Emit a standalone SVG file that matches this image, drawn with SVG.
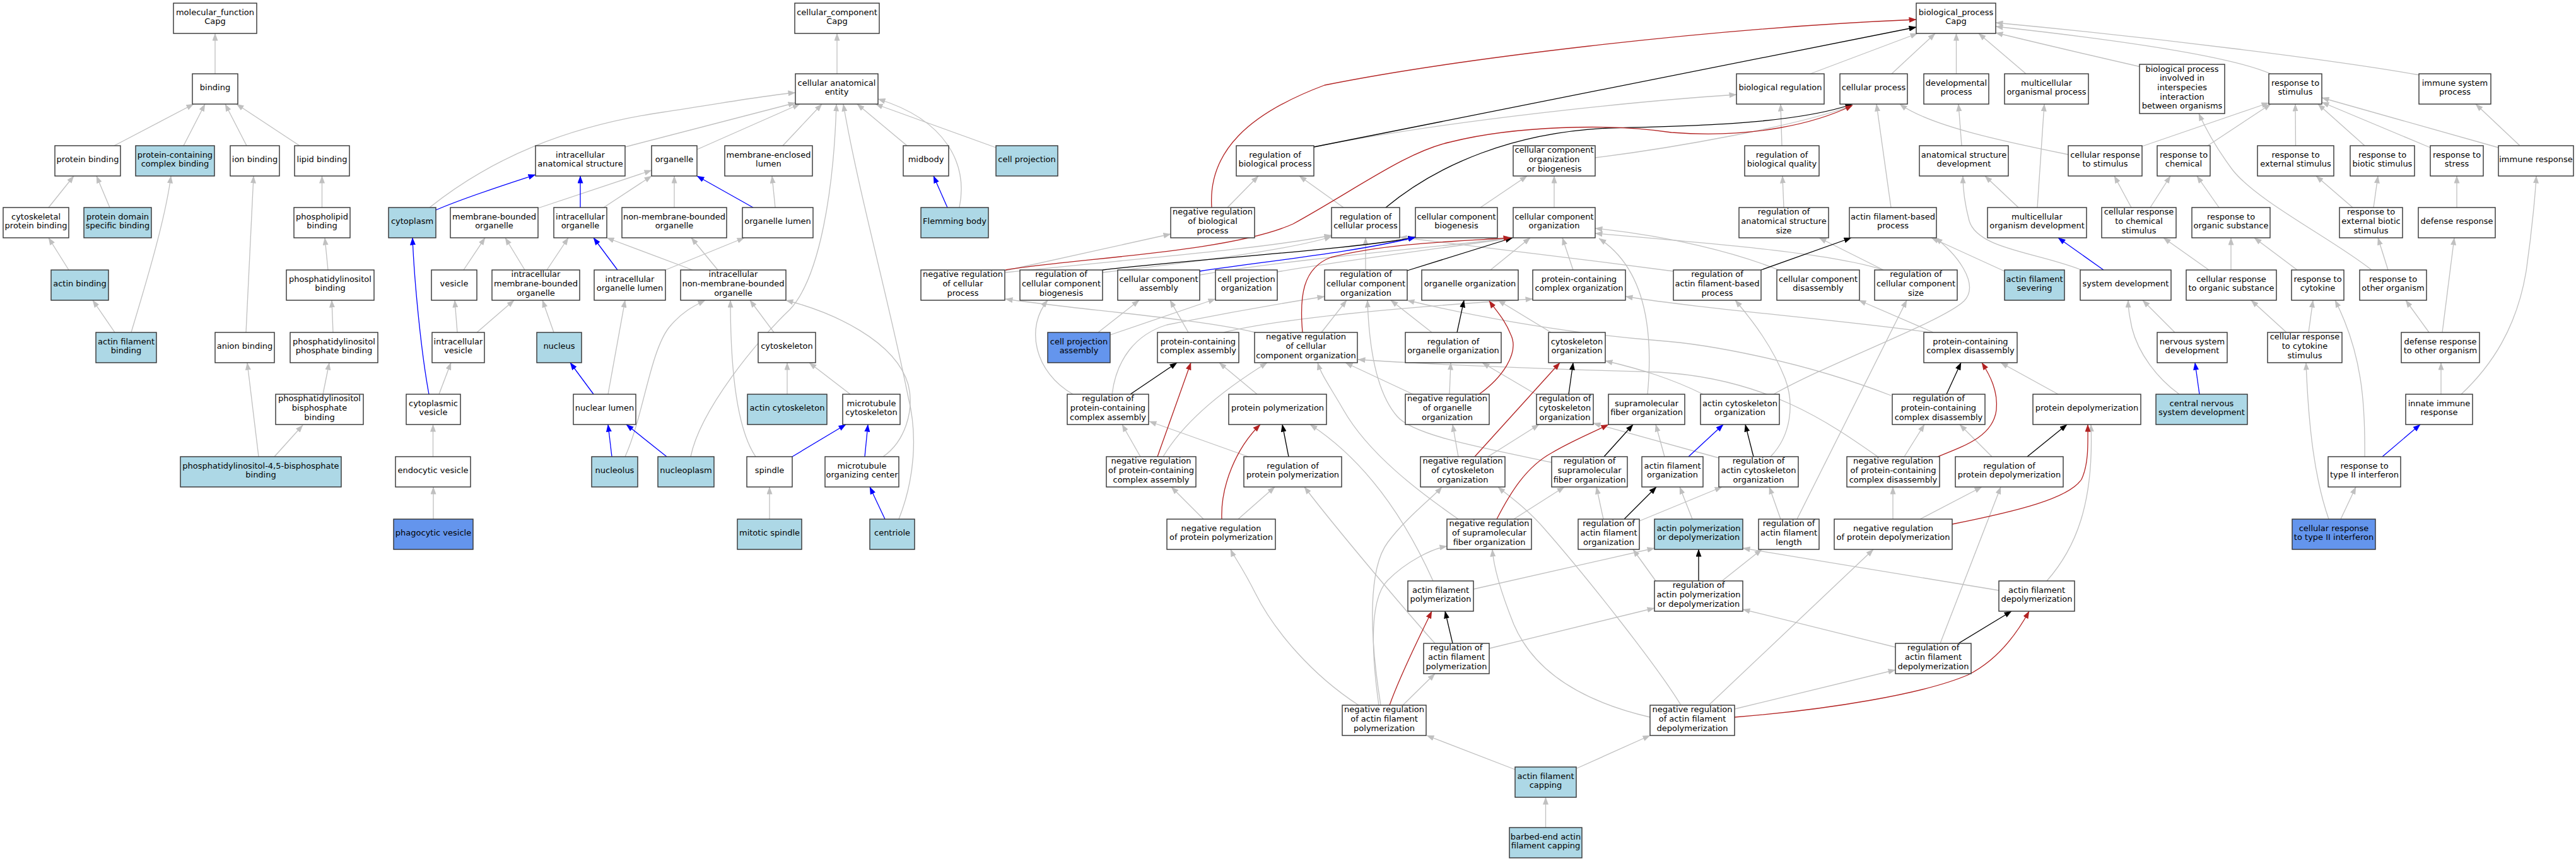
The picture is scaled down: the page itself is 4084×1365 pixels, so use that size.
<svg xmlns="http://www.w3.org/2000/svg" width="4084" height="1365" viewBox="0 0 4084 1365">
<defs>
<style>
.node rect{fill:#fff;stroke:#333;stroke-width:1.4}
.node.lb rect{fill:#add8e6}
.node.cb rect{fill:#6495ed}
.node text{font-family:"DejaVu Sans","Liberation Sans",sans-serif;font-size:13px;fill:#000;text-anchor:middle}
#edges path{fill:none;stroke-width:1.3}
#edges path.g{stroke:#c0c0c0;marker-end:url(#ag)}
#edges path.b{stroke:#0000ff;marker-end:url(#ab)}
#edges path.k{stroke:#000;marker-end:url(#ak)}
#edges path.r{stroke:#b22222;marker-end:url(#ar)}
</style>
<marker id="ag" viewBox="0 0 12 9" refX="11.5" refY="4.5" markerWidth="12" markerHeight="9" markerUnits="userSpaceOnUse" orient="auto"><path d="M0,0L12,4.5L0,9z" fill="#c0c0c0"/></marker>
<marker id="ab" viewBox="0 0 12 9" refX="11.5" refY="4.5" markerWidth="12" markerHeight="9" markerUnits="userSpaceOnUse" orient="auto"><path d="M0,0L12,4.5L0,9z" fill="#0000ff"/></marker>
<marker id="ak" viewBox="0 0 12 9" refX="11.5" refY="4.5" markerWidth="12" markerHeight="9" markerUnits="userSpaceOnUse" orient="auto"><path d="M0,0L12,4.5L0,9z" fill="#000"/></marker>
<marker id="ar" viewBox="0 0 12 9" refX="11.5" refY="4.5" markerWidth="12" markerHeight="9" markerUnits="userSpaceOnUse" orient="auto"><path d="M0,0L12,4.5L0,9z" fill="#b22222"/></marker>
</defs>
<rect width="4084" height="1365" fill="#fff"/>
<g id="edges">
<!-- molecular function -->
<path class="g" d="M341,117 L341,53"/>
<path class="g" d="M181,231 L307,165"/>
<path class="g" d="M291,231 L325,165"/>
<path class="g" d="M391,231 L357,165"/>
<path class="g" d="M475,231 L375,165"/>
<path class="g" d="M77,329 L117,279"/>
<path class="g" d="M174,329 L153,279"/>
<path class="g" d="M109,428 L77,377"/>
<path class="g" d="M182,527 L147,476"/>
<path class="g" d="M208,527 C228,460 262,350 271,279"/>
<path class="g" d="M390,527 L402,279"/>
<path class="g" d="M510.5,329 L510.5,279"/>
<path class="g" d="M520,428 L515,377"/>
<path class="g" d="M528,527 L526,476"/>
<path class="g" d="M512,625 L522,575"/>
<path class="g" d="M435,724 L480,674"/>
<path class="g" d="M410,724 L392,575"/>
<!-- cellular component -->
<path class="g" d="M1327,117 L1327,53"/>
<path class="g" d="M681,329 C780,250 900,200 1050,178 C1150,163 1220,150 1261,147"/>
<path class="g" d="M991,233 L1261,163"/>
<path class="g" d="M1105,237 L1268,165"/>
<path class="g" d="M1241,231 L1303,165"/>
<path class="g" d="M1438,231 L1359,165"/>
<path class="g" d="M1579,234 L1388,165"/>
<path class="g" d="M1521,329 C1535,260 1500,190 1392,157"/>
<path class="g" d="M1095,724 C1110,650 1200,540 1252,491 C1300,440 1322,300 1326,165"/>
<path class="g" d="M1425,823 C1450,760 1455,690 1440,630 C1410,480 1360,300 1337,165"/>
<path class="g" d="M991,724 C1020,660 1030,560 1060,520 C1080,495 1100,485 1118,476"/>
<path class="g" d="M964,625 L991,476"/>
<path class="g" d="M696,625 L715,575"/>
<path class="g" d="M686.5,724 L686.5,673"/>
<path class="g" d="M687,823 L687,772"/>
<path class="g" d="M725,527 L721,476"/>
<path class="g" d="M756,527 L815,476"/>
<path class="g" d="M735,428 L769,377"/>
<path class="g" d="M832,428 L801,377"/>
<path class="g" d="M867,428 L901,377"/>
<path class="g" d="M878,527 L860,476"/>
<path class="g" d="M1055,428 L1180,377"/>
<path class="g" d="M1098,428 L962,377"/>
<path class="g" d="M1138,428 L1096,377"/>
<path class="g" d="M1227,527 L1189,476"/>
<path class="g" d="M1198,724 C1175,690 1158,620 1158,476"/>
<path class="g" d="M1400,724 C1435,700 1450,650 1440,610 C1420,540 1320,495 1246,476"/>
<path class="g" d="M1220,823 L1220,772"/>
<path class="g" d="M1248,625 L1248,575"/>
<path class="g" d="M1348,625 L1283,575"/>
<path class="g" d="M1229,329 L1224,279"/>
<path class="g" d="M1069,329 L1069,279"/>
<path class="g" d="M957,329 L1033,279"/>
<path class="g" d="M853,330 L1033,270"/>
<path class="b" d="M691,333 C740,312 800,293 849,277"/>
<path class="b" d="M920,329 L920,279"/>
<path class="b" d="M1194,329 L1105,279"/>
<path class="b" d="M979,428 L941,377"/>
<path class="b" d="M680,625 C668,560 657,450 654,377"/>
<path class="b" d="M941,625 L904,575"/>
<path class="b" d="M970,724 L964,673"/>
<path class="b" d="M1057,724 L993,673"/>
<path class="b" d="M1403,823 L1379,772"/>
<path class="b" d="M1371,724 L1376,673"/>
<path class="b" d="M1256,724 L1341,673"/>
<path class="b" d="M1502,329 L1480,279"/>
<!-- biological process: gray -->
<path class="g" d="M2870,117 L3040,53"/>
<path class="g" d="M2999,117 L3068,53"/>
<path class="g" d="M3101.5,117 L3101.5,53"/>
<path class="g" d="M3212,117 L3137,53"/>
<path class="g" d="M3394,106 Q3280,80 3164,52"/>
<path class="g" d="M3600,117 C3550,95 3420,70 3164,42"/>
<path class="g" d="M3836,119 C3700,95 3420,60 3164,36"/>
<path class="g" d="M2083,233 C2300,190 2600,160 2753,150"/>
<path class="g" d="M2825,231 L2823,165"/>
<path class="g" d="M2529,250 C2650,235 2850,200 2937,167"/>
<path class="g" d="M2998,329 L2975,165"/>
<path class="g" d="M3279,245 C3180,225 3060,200 3012,165"/>
<path class="g" d="M3110,231 L3105,165"/>
<path class="g" d="M3230,329 L3241,165"/>
<path class="g" d="M3200,329 L3147,279"/>
<path class="g" d="M3396,232 L3597,163"/>
<path class="g" d="M3500,231 L3600,165"/>
<path class="g" d="M3639.5,231 L3639,165"/>
<path class="g" d="M3749,231 L3675,165"/>
<path class="g" d="M3853,234 L3681,162"/>
<path class="g" d="M3961,234 L3681,155"/>
<path class="g" d="M3995,231 L3925,165"/>
<path class="g" d="M1946,329 L1995,279"/>
<path class="g" d="M2130,329 L2060,279"/>
<path class="g" d="M2347,329 L2421,279"/>
<path class="g" d="M2464,329 L2464,279"/>
<path class="g" d="M2828,329 L2826,279"/>
<path class="g" d="M3409,329 L3441,279"/>
<path class="g" d="M3518,329 L3483,279"/>
<path class="g" d="M3730,329 L3672,279"/>
<path class="g" d="M3763,329 L3770,279"/>
<path class="g" d="M3895,329 L3895,279"/>
<path class="g" d="M3379,329 L3352,279"/>
<path class="g" d="M1594,429 L1856,371"/>
<path class="g" d="M1594,432 C1800,410 2000,395 2111,373"/>
<path class="g" d="M1748,432 C1900,415 2050,395 2111,375"/>
<path class="g" d="M1902,436 C2050,410 2300,390 2399,377"/>
<path class="g" d="M2025,431 C2150,410 2300,392 2399,377"/>
<path class="g" d="M2165,428 L2165,377"/>
<path class="g" d="M2363,428 L2426,377"/>
<path class="g" d="M2494,428 L2477,377"/>
<path class="g" d="M2820,428 C2750,400 2650,375 2529,362"/>
<path class="g" d="M2986,428 C2900,400 2700,385 2529,370"/>
<path class="g" d="M2653,430 C2500,410 2300,385 2219,376"/>
<path class="g" d="M2986,428 L2884,377"/>
<path class="g" d="M3178,430 L3062,377"/>
<path class="g" d="M2812,625 C2900,575 3080,510 3114,477 C3140,450 3100,400 3068,377"/>
<path class="g" d="M3300,428 C3230,400 3135,395 3122,350 C3114,320 3112,300 3112,279"/>
<path class="g" d="M3502,428 L3430,377"/>
<path class="g" d="M3537,428 L3537,377"/>
<path class="g" d="M3642,428 L3574,377"/>
<path class="g" d="M3786,428 L3770,377"/>
<path class="g" d="M3760,428 C3700,380 3580,320 3540,270 C3510,230 3495,200 3486,180"/>
<path class="g" d="M1741,527 L1806,476"/>
<path class="g" d="M1760,531 L1927,474"/>
<path class="g" d="M1884,527 L1855,476"/>
<path class="g" d="M1940,527 C2050,500 2300,482 2430,474"/>
<path class="g" d="M1763,625 C1770,570 1800,530 1850,515 C1950,495 2050,478 2100,470"/>
<path class="g" d="M2095,527 L2135,476"/>
<path class="g" d="M1990,527 C1900,505 1700,490 1594,474"/>
<path class="g" d="M2270,527 L2205,476"/>
<path class="g" d="M2459,527 L2375,476"/>
<path class="g" d="M3065,527 L2947,476"/>
<path class="g" d="M3060,527 C2900,505 2700,490 2577,470"/>
<path class="g" d="M3448,527 L3397,476"/>
<path class="g" d="M3625,527 L3569,476"/>
<path class="g" d="M3660,527 L3667,476"/>
<path class="g" d="M3872,527 L3891,377"/>
<path class="g" d="M3851,527 L3814,476"/>
<path class="g" d="M1701,625 C1640,590 1625,520 1661,476"/>
<path class="g" d="M1993,625 L1933,575"/>
<path class="g" d="M2298,625 L2300,575"/>
<path class="g" d="M2240,625 L2133,575"/>
<path class="g" d="M2435,625 L2350,575"/>
<path class="g" d="M2612,625 C2620,540 2615,430 2535,378"/>
<path class="g" d="M2700,625 C2650,600 2600,585 2545,572"/>
<path class="g" d="M2998,627 C2850,570 2700,545 2630,540 C2500,530 2350,505 2231,476"/>
<path class="g" d="M3263,625 L3172,575"/>
<path class="g" d="M3455,625 C3420,600 3390,560 3380,520 C3376,500 3374,490 3374,476"/>
<path class="g" d="M3870,625 L3870,575"/>
<path class="g" d="M3902,625 C3950,580 3990,520 4005,430 C4015,360 4020,300 4021,279"/>
<path class="g" d="M1808,724 L1779,673"/>
<path class="g" d="M1844,724 C1870,680 1920,630 2009,575"/>
<path class="g" d="M1979,724 L1822,668"/>
<path class="g" d="M2359,724 L2440,673"/>
<path class="g" d="M2312,724 L2303,673"/>
<path class="g" d="M2460,733 C2350,710 2240,690 2215,660 C2180,620 2170,540 2168,476"/>
<path class="g" d="M2639,724 L2625,673"/>
<path class="g" d="M2725,726 L2526,671"/>
<path class="g" d="M2807,724 C2840,690 2845,640 2830,600 C2810,550 2780,510 2751,476"/>
<path class="g" d="M3019,724 L3051,673"/>
<path class="g" d="M2977,724 C2900,670 2800,600 2630,590 C2450,585 2300,580 2153,570"/>
<path class="g" d="M3158,724 L3107,673"/>
<path class="g" d="M3749,724 C3750,640 3745,560 3702,476"/>
<path class="g" d="M1963,823 L2021,772"/>
<path class="g" d="M1908,823 L1857,772"/>
<path class="g" d="M2400,823 L2480,772"/>
<path class="g" d="M2312,823 C2250,780 2170,720 2130,650 C2110,615 2095,595 2089,575"/>
<path class="g" d="M2542,823 L2531,772"/>
<path class="g" d="M2599,826 L2730,772"/>
<path class="g" d="M2683,823 L2663,772"/>
<path class="g" d="M2823,823 L2805,772"/>
<path class="g" d="M2849,823 L3023,476"/>
<path class="g" d="M3044,823 L3142,772"/>
<path class="g" d="M3001,823 L3001,772"/>
<path class="g" d="M3711,823 L3735,772"/>
<path class="g" d="M3692,823 C3670,760 3660,680 3656,575"/>
<path class="g" d="M2272,921 C2240,850 2180,740 2077,673"/>
<path class="g" d="M2336,934 L2623,869"/>
<path class="g" d="M2625,921 L2589,871"/>
<path class="g" d="M2730,921 L2793,871"/>
<path class="g" d="M3169,936 L2763,869"/>
<path class="g" d="M3245,921 C3290,870 3320,800 3315,673"/>
<path class="g" d="M2275,1020 C2230,970 2120,840 2068,772"/>
<path class="g" d="M2361,1028 L2623,964"/>
<path class="g" d="M3076,1020 L3172,772"/>
<path class="g" d="M3005,1026 L2763,966"/>
<path class="g" d="M2224,1118 L2275,1068"/>
<path class="g" d="M2154,1118 C2080,1070 2020,1000 1990,940 C1970,900 1955,880 1951,871"/>
<path class="g" d="M2186,1118 C2175,1040 2170,950 2200,920 C2230,890 2270,870 2294,866"/>
<path class="g" d="M2189,1118 C2170,1000 2170,900 2200,860 C2230,820 2270,790 2286,772"/>
<path class="g" d="M2750,1124 L3005,1062"/>
<path class="g" d="M2709,1118 L2970,871"/>
<path class="g" d="M2616,1137 C2500,1110 2430,1060 2400,990 C2380,940 2368,900 2366,871"/>
<path class="g" d="M2665,1118 C2630,1060 2520,920 2450,840 C2420,805 2390,785 2375,772"/>
<path class="g" d="M2402,1220 L2262,1166"/>
<path class="g" d="M2500,1218 L2616,1166"/>
<path class="g" d="M2450.5,1312 L2450.5,1264"/>
<!-- regulates -->
<path class="k" d="M2083,233 L3038,43"/>
<path class="k" d="M2197,329 C2280,260 2400,210 2550,203 C2700,200 2850,195 2937,165"/>
<path class="k" d="M1748,428 C1900,410 2150,395 2244,376"/>
<path class="k" d="M2231,429 L2398,377"/>
<path class="k" d="M2792,428 L2935,377"/>
<path class="k" d="M2310,527 L2321,476"/>
<path class="k" d="M1792,625 L1866,575"/>
<path class="k" d="M2487,625 L2494,575"/>
<path class="k" d="M3086,625 L3109,575"/>
<path class="k" d="M2043,724 L2033,673"/>
<path class="k" d="M2543,724 L2589,673"/>
<path class="k" d="M2780,724 L2767,673"/>
<path class="k" d="M3214,724 L3277,673"/>
<path class="k" d="M2575,823 L2626,772"/>
<path class="k" d="M2693,921 L2693,871"/>
<path class="k" d="M2303,1020 L2291,969"/>
<path class="k" d="M3105,1020 L3189,969"/>
<!-- negatively regulates -->
<path class="r" d="M1921,329 C1915,240 1980,180 2100,135 C2300,95 2700,45 3038,31"/>
<path class="r" d="M1594,428 C1700,410 1950,400 2050,355 C2150,300 2230,240 2300,225 C2400,200 2550,195 2650,210 C2780,220 2880,195 2937,167"/>
<path class="r" d="M2065,527 C2060,470 2065,425 2110,408 C2200,385 2320,382 2395,377"/>
<path class="r" d="M1835,724 L1888,575"/>
<path class="r" d="M2345,625 C2380,600 2410,560 2395,530 C2385,505 2370,490 2361,477"/>
<path class="r" d="M2338,724 L2473,575"/>
<path class="r" d="M1937,823 C1935,770 1960,710 1998,673"/>
<path class="r" d="M2373,823 C2395,780 2420,740 2460,718 C2490,700 2520,688 2550,673"/>
<path class="r" d="M3072,724 C3120,705 3160,690 3165,650 C3168,620 3155,595 3142,575"/>
<path class="r" d="M3095,831 C3200,810 3280,790 3300,760 C3312,735 3310,700 3310,673"/>
<path class="r" d="M2203,1118 C2220,1070 2250,1010 2270,969"/>
<path class="r" d="M2750,1137 C2900,1125 3050,1100 3120,1070 C3170,1045 3200,1000 3217,969"/>
<!-- part of -->
<path class="b" d="M1902,430 C2000,415 2150,400 2244,376"/>
<path class="b" d="M3335,428 L3263,377"/>
<path class="b" d="M3487,625 L3480,575"/>
<path class="b" d="M2677,724 L2732,673"/>
<path class="b" d="M3777,724 L3837,673"/>
</g>
<!-- molecular function nodes -->
<g id="n_mf" class="node"><rect x="275" y="5" width="132" height="48"/><text x="341" y="23.7">molecular_function<tspan x="341" dy="14.6">Capg</tspan></text></g>
<g id="n_binding" class="node"><rect x="305" y="117" width="72" height="48"/><text x="341" y="143">binding</text></g>
<g id="n_protbind" class="node"><rect x="87" y="231" width="104" height="48"/><text x="139" y="257">protein binding</text></g>
<g id="n_pcbind" class="node lb"><rect x="215" y="231" width="125" height="48"/><text x="277.5" y="249.7">protein-containing<tspan x="277.5" dy="14.6">complex binding</tspan></text></g>
<g id="n_ionbind" class="node"><rect x="365" y="231" width="78" height="48"/><text x="404" y="257">ion binding</text></g>
<g id="n_lipbind" class="node"><rect x="467" y="231" width="87" height="48"/><text x="510.5" y="257">lipid binding</text></g>
<g id="n_cytoprotbind" class="node"><rect x="5" y="329" width="104" height="48"/><text x="57" y="347.7">cytoskeletal<tspan x="57" dy="14.6">protein binding</tspan></text></g>
<g id="n_pdsb" class="node lb"><rect x="133" y="329" width="107" height="48"/><text x="186.5" y="347.7">protein domain<tspan x="186.5" dy="14.6">specific binding</tspan></text></g>
<g id="n_phospholipid" class="node"><rect x="466" y="329" width="89" height="48"/><text x="510.5" y="347.7">phospholipid<tspan x="510.5" dy="14.6">binding</tspan></text></g>
<g id="n_actinbind" class="node lb"><rect x="81" y="428" width="91" height="48"/><text x="126.5" y="454">actin binding</text></g>
<g id="n_pibind" class="node"><rect x="454" y="428" width="139" height="48"/><text x="523.5" y="446.7">phosphatidylinositol<tspan x="523.5" dy="14.6">binding</tspan></text></g>
<g id="n_afbind" class="node lb"><rect x="152" y="527" width="96" height="48"/><text x="200" y="545.7">actin filament<tspan x="200" dy="14.6">binding</tspan></text></g>
<g id="n_anion" class="node"><rect x="341" y="527" width="94" height="48"/><text x="388" y="553">anion binding</text></g>
<g id="n_pipbind" class="node"><rect x="460" y="527" width="139" height="48"/><text x="529.5" y="545.7">phosphatidylinositol<tspan x="529.5" dy="14.6">phosphate binding</tspan></text></g>
<g id="n_pibpbind" class="node"><rect x="437" y="625" width="139" height="48"/><text x="506.5" y="636.4">phosphatidylinositol<tspan x="506.5" dy="14.6">bisphosphate</tspan><tspan x="506.5" dy="14.6">binding</tspan></text></g>
<g id="n_pip2bind" class="node lb"><rect x="286" y="724" width="255" height="48"/><text x="413.5" y="742.7">phosphatidylinositol-4,5-bisphosphate<tspan x="413.5" dy="14.6">binding</tspan></text></g>
<!-- cellular component nodes -->
<g id="n_cc" class="node"><rect x="1260" y="5" width="134" height="48"/><text x="1327" y="23.7">cellular_component<tspan x="1327" dy="14.6">Capg</tspan></text></g>
<g id="n_cae" class="node"><rect x="1261" y="117" width="131" height="48"/><text x="1326.5" y="135.7">cellular anatomical<tspan x="1326.5" dy="14.6">entity</tspan></text></g>
<g id="n_ias" class="node"><rect x="849" y="231" width="142" height="48"/><text x="920" y="249.7">intracellular<tspan x="920" dy="14.6">anatomical structure</tspan></text></g>
<g id="n_organelle" class="node"><rect x="1033" y="231" width="72" height="48"/><text x="1069" y="257">organelle</text></g>
<g id="n_mel" class="node"><rect x="1149" y="231" width="139" height="48"/><text x="1218.5" y="249.7">membrane-enclosed<tspan x="1218.5" dy="14.6">lumen</tspan></text></g>
<g id="n_midbody" class="node"><rect x="1432" y="231" width="72" height="48"/><text x="1468" y="257">midbody</text></g>
<g id="n_cellproj" class="node lb"><rect x="1579" y="231" width="98" height="48"/><text x="1628" y="257">cell projection</text></g>
<g id="n_cytoplasm" class="node lb"><rect x="616" y="329" width="75" height="48"/><text x="653.5" y="355">cytoplasm</text></g>
<g id="n_mbo" class="node"><rect x="714" y="329" width="139" height="48"/><text x="783.5" y="347.7">membrane-bounded<tspan x="783.5" dy="14.6">organelle</tspan></text></g>
<g id="n_io" class="node"><rect x="878" y="329" width="84" height="48"/><text x="920" y="347.7">intracellular<tspan x="920" dy="14.6">organelle</tspan></text></g>
<g id="n_nmbo" class="node"><rect x="986" y="329" width="166" height="48"/><text x="1069" y="347.7">non-membrane-bounded<tspan x="1069" dy="14.6">organelle</tspan></text></g>
<g id="n_ol" class="node"><rect x="1177" y="329" width="112" height="48"/><text x="1233" y="355">organelle lumen</text></g>
<g id="n_flemming" class="node lb"><rect x="1460" y="329" width="107" height="48"/><text x="1513.5" y="355">Flemming body</text></g>
<g id="n_vesicle" class="node"><rect x="684" y="428" width="72" height="48"/><text x="720" y="454">vesicle</text></g>
<g id="n_imbo" class="node"><rect x="780" y="428" width="139" height="48"/><text x="849.5" y="439.4">intracellular<tspan x="849.5" dy="14.6">membrane-bounded</tspan><tspan x="849.5" dy="14.6">organelle</tspan></text></g>
<g id="n_iol" class="node"><rect x="942" y="428" width="113" height="48"/><text x="998.5" y="446.7">intracellular<tspan x="998.5" dy="14.6">organelle lumen</tspan></text></g>
<g id="n_inmbo" class="node"><rect x="1079" y="428" width="167" height="48"/><text x="1162.5" y="439.4">intracellular<tspan x="1162.5" dy="14.6">non-membrane-bounded</tspan><tspan x="1162.5" dy="14.6">organelle</tspan></text></g>
<g id="n_ivesicle" class="node"><rect x="685" y="527" width="83" height="48"/><text x="726.5" y="545.7">intracellular<tspan x="726.5" dy="14.6">vesicle</tspan></text></g>
<g id="n_nucleus" class="node lb"><rect x="851" y="527" width="71" height="48"/><text x="886.5" y="553">nucleus</text></g>
<g id="n_cytoskeleton" class="node"><rect x="1202" y="527" width="91" height="48"/><text x="1247.5" y="553">cytoskeleton</text></g>
<g id="n_cytovesicle" class="node"><rect x="644" y="625" width="86" height="48"/><text x="687" y="643.7">cytoplasmic<tspan x="687" dy="14.6">vesicle</tspan></text></g>
<g id="n_nuclumen" class="node"><rect x="909" y="625" width="99" height="48"/><text x="958.5" y="651">nuclear lumen</text></g>
<g id="n_actincyto" class="node lb"><rect x="1185" y="625" width="126" height="48"/><text x="1248" y="651">actin cytoskeleton</text></g>
<g id="n_mtcyto" class="node"><rect x="1336" y="625" width="91" height="48"/><text x="1381.5" y="643.7">microtubule<tspan x="1381.5" dy="14.6">cytoskeleton</tspan></text></g>
<g id="n_endovesicle" class="node"><rect x="627" y="724" width="119" height="48"/><text x="686.5" y="750">endocytic vesicle</text></g>
<g id="n_nucleolus" class="node lb"><rect x="938" y="724" width="73" height="48"/><text x="974.5" y="750">nucleolus</text></g>
<g id="n_nucleoplasm" class="node lb"><rect x="1043" y="724" width="89" height="48"/><text x="1087.5" y="750">nucleoplasm</text></g>
<g id="n_spindle" class="node"><rect x="1184" y="724" width="72" height="48"/><text x="1220" y="750">spindle</text></g>
<g id="n_mtoc" class="node"><rect x="1308" y="724" width="117" height="48"/><text x="1366.5" y="742.7">microtubule<tspan x="1366.5" dy="14.6">organizing center</tspan></text></g>
<g id="n_phagovesicle" class="node cb"><rect x="624" y="823" width="126" height="48"/><text x="687" y="849">phagocytic vesicle</text></g>
<g id="n_mitspindle" class="node lb"><rect x="1169" y="823" width="102" height="48"/><text x="1220" y="849">mitotic spindle</text></g>
<g id="n_centriole" class="node lb"><rect x="1379" y="823" width="71" height="48"/><text x="1414.5" y="849">centriole</text></g>
<!-- biological process nodes -->
<g id="n_bp" class="node"><rect x="3038" y="5" width="126" height="48"/><text x="3101" y="23.7">biological_process<tspan x="3101" dy="14.6">Capg</tspan></text></g>
<g id="n_bioreg" class="node"><rect x="2753" y="117" width="139" height="48"/><text x="2822.5" y="143">biological regulation</text></g>
<g id="n_cellproc" class="node"><rect x="2917" y="117" width="107" height="48"/><text x="2970.5" y="143">cellular process</text></g>
<g id="n_devproc" class="node"><rect x="3050" y="117" width="103" height="48"/><text x="3101.5" y="135.7">developmental<tspan x="3101.5" dy="14.6">process</tspan></text></g>
<g id="n_mcop" class="node"><rect x="3178" y="117" width="133" height="48"/><text x="3244.5" y="135.7">multicellular<tspan x="3244.5" dy="14.6">organismal process</tspan></text></g>
<g id="n_interspecies" class="node"><rect x="3392" y="102" width="135" height="78"/><text x="3459.5" y="113.8">biological process<tspan x="3459.5" dy="14.6">involved in</tspan><tspan x="3459.5" dy="14.6">interspecies</tspan><tspan x="3459.5" dy="14.6">interaction</tspan><tspan x="3459.5" dy="14.6">between organisms</tspan></text></g>
<g id="n_respstim" class="node"><rect x="3597" y="117" width="84" height="48"/><text x="3639" y="135.7">response to<tspan x="3639" dy="14.6">stimulus</tspan></text></g>
<g id="n_immsys" class="node"><rect x="3835" y="117" width="114" height="48"/><text x="3892" y="135.7">immune system<tspan x="3892" dy="14.6">process</tspan></text></g>
<g id="n_regbp" class="node"><rect x="1960" y="231" width="123" height="48"/><text x="2021.5" y="249.7">regulation of<tspan x="2021.5" dy="14.6">biological process</tspan></text></g>
<g id="n_ccob" class="node"><rect x="2399" y="231" width="130" height="48"/><text x="2464" y="242.4">cellular component<tspan x="2464" dy="14.6">organization</tspan><tspan x="2464" dy="14.6">or biogenesis</tspan></text></g>
<g id="n_regbq" class="node"><rect x="2766" y="231" width="118" height="48"/><text x="2825" y="249.7">regulation of<tspan x="2825" dy="14.6">biological quality</tspan></text></g>
<g id="n_asd" class="node"><rect x="3043" y="231" width="141" height="48"/><text x="3113.5" y="249.7">anatomical structure<tspan x="3113.5" dy="14.6">development</tspan></text></g>
<g id="n_crstim" class="node"><rect x="3279" y="231" width="117" height="48"/><text x="3337.5" y="249.7">cellular response<tspan x="3337.5" dy="14.6">to stimulus</tspan></text></g>
<g id="n_respchem" class="node"><rect x="3420" y="231" width="84" height="48"/><text x="3462" y="249.7">response to<tspan x="3462" dy="14.6">chemical</tspan></text></g>
<g id="n_respext" class="node"><rect x="3579" y="231" width="121" height="48"/><text x="3639.5" y="249.7">response to<tspan x="3639.5" dy="14.6">external stimulus</tspan></text></g>
<g id="n_respbiotic" class="node"><rect x="3726" y="231" width="102" height="48"/><text x="3777" y="249.7">response to<tspan x="3777" dy="14.6">biotic stimulus</tspan></text></g>
<g id="n_respstress" class="node"><rect x="3853" y="231" width="84" height="48"/><text x="3895" y="249.7">response to<tspan x="3895" dy="14.6">stress</tspan></text></g>
<g id="n_immresp" class="node"><rect x="3961" y="231" width="119" height="48"/><text x="4020.5" y="257">immune response</text></g>
<g id="n_negregbp" class="node"><rect x="1856" y="329" width="133" height="48"/><text x="1922.5" y="340.4">negative regulation<tspan x="1922.5" dy="14.6">of biological</tspan><tspan x="1922.5" dy="14.6">process</tspan></text></g>
<g id="n_regcp" class="node"><rect x="2111" y="329" width="108" height="48"/><text x="2165" y="347.7">regulation of<tspan x="2165" dy="14.6">cellular process</tspan></text></g>
<g id="n_ccbio" class="node"><rect x="2244" y="329" width="130" height="48"/><text x="2309" y="347.7">cellular component<tspan x="2309" dy="14.6">biogenesis</tspan></text></g>
<g id="n_cco" class="node"><rect x="2399" y="329" width="130" height="48"/><text x="2464" y="347.7">cellular component<tspan x="2464" dy="14.6">organization</tspan></text></g>
<g id="n_regass" class="node"><rect x="2757" y="329" width="142" height="48"/><text x="2828" y="340.4">regulation of<tspan x="2828" dy="14.6">anatomical structure</tspan><tspan x="2828" dy="14.6">size</tspan></text></g>
<g id="n_afbp" class="node"><rect x="2932" y="329" width="138" height="48"/><text x="3001" y="347.7">actin filament-based<tspan x="3001" dy="14.6">process</tspan></text></g>
<g id="n_mcod" class="node"><rect x="3151" y="329" width="157" height="48"/><text x="3229.5" y="347.7">multicellular<tspan x="3229.5" dy="14.6">organism development</tspan></text></g>
<g id="n_crchem" class="node"><rect x="3332" y="329" width="118" height="48"/><text x="3391" y="340.4">cellular response<tspan x="3391" dy="14.6">to chemical</tspan><tspan x="3391" dy="14.6">stimulus</tspan></text></g>
<g id="n_resporg" class="node"><rect x="3475" y="329" width="124" height="48"/><text x="3537" y="347.7">response to<tspan x="3537" dy="14.6">organic substance</tspan></text></g>
<g id="n_respextbio" class="node"><rect x="3709" y="329" width="100" height="48"/><text x="3759" y="340.4">response to<tspan x="3759" dy="14.6">external biotic</tspan><tspan x="3759" dy="14.6">stimulus</tspan></text></g>
<g id="n_defresp" class="node"><rect x="3834" y="329" width="122" height="48"/><text x="3895" y="355">defense response</text></g>
<g id="n_negregcp" class="node"><rect x="1460" y="428" width="133" height="48"/><text x="1526.5" y="439.4">negative regulation<tspan x="1526.5" dy="14.6">of cellular</tspan><tspan x="1526.5" dy="14.6">process</tspan></text></g>
<g id="n_regccb" class="node"><rect x="1617" y="428" width="131" height="48"/><text x="1682.5" y="439.4">regulation of<tspan x="1682.5" dy="14.6">cellular component</tspan><tspan x="1682.5" dy="14.6">biogenesis</tspan></text></g>
<g id="n_cca" class="node"><rect x="1772" y="428" width="130" height="48"/><text x="1837" y="446.7">cellular component<tspan x="1837" dy="14.6">assembly</tspan></text></g>
<g id="n_cpo" class="node"><rect x="1927" y="428" width="98" height="48"/><text x="1976" y="446.7">cell projection<tspan x="1976" dy="14.6">organization</tspan></text></g>
<g id="n_regcco" class="node"><rect x="2100" y="428" width="131" height="48"/><text x="2165.5" y="439.4">regulation of<tspan x="2165.5" dy="14.6">cellular component</tspan><tspan x="2165.5" dy="14.6">organization</tspan></text></g>
<g id="n_orgorg" class="node"><rect x="2254" y="428" width="153" height="48"/><text x="2330.5" y="454">organelle organization</text></g>
<g id="n_pcco" class="node"><rect x="2430" y="428" width="147" height="48"/><text x="2503.5" y="446.7">protein-containing<tspan x="2503.5" dy="14.6">complex organization</tspan></text></g>
<g id="n_regafbp" class="node"><rect x="2653" y="428" width="139" height="48"/><text x="2722.5" y="439.4">regulation of<tspan x="2722.5" dy="14.6">actin filament-based</tspan><tspan x="2722.5" dy="14.6">process</tspan></text></g>
<g id="n_ccd" class="node"><rect x="2817" y="428" width="131" height="48"/><text x="2882.5" y="446.7">cellular component<tspan x="2882.5" dy="14.6">disassembly</tspan></text></g>
<g id="n_regccs" class="node"><rect x="2972" y="428" width="131" height="48"/><text x="3037.5" y="439.4">regulation of<tspan x="3037.5" dy="14.6">cellular component</tspan><tspan x="3037.5" dy="14.6">size</tspan></text></g>
<g id="n_afsev" class="node lb"><rect x="3178" y="428" width="95" height="48"/><text x="3225.5" y="446.7">actin filament<tspan x="3225.5" dy="14.6">severing</tspan></text></g>
<g id="n_sysdev" class="node"><rect x="3298" y="428" width="144" height="48"/><text x="3370" y="454">system development</text></g>
<g id="n_crorg" class="node"><rect x="3466" y="428" width="143" height="48"/><text x="3537.5" y="446.7">cellular response<tspan x="3537.5" dy="14.6">to organic substance</tspan></text></g>
<g id="n_respcyt" class="node"><rect x="3633" y="428" width="83" height="48"/><text x="3674.5" y="446.7">response to<tspan x="3674.5" dy="14.6">cytokine</tspan></text></g>
<g id="n_respother" class="node"><rect x="3741" y="428" width="106" height="48"/><text x="3794" y="446.7">response to<tspan x="3794" dy="14.6">other organism</tspan></text></g>
<g id="n_cpa" class="node cb"><rect x="1661" y="527" width="99" height="48"/><text x="1710.5" y="545.7">cell projection<tspan x="1710.5" dy="14.6">assembly</tspan></text></g>
<g id="n_pcca" class="node"><rect x="1835" y="527" width="129" height="48"/><text x="1899.5" y="545.7">protein-containing<tspan x="1899.5" dy="14.6">complex assembly</tspan></text></g>
<g id="n_negregcco" class="node"><rect x="1989" y="527" width="163" height="48"/><text x="2070.5" y="538.4">negative regulation<tspan x="2070.5" dy="14.6">of cellular</tspan><tspan x="2070.5" dy="14.6">component organization</tspan></text></g>
<g id="n_regorgorg" class="node"><rect x="2228" y="527" width="152" height="48"/><text x="2304" y="545.7">regulation of<tspan x="2304" dy="14.6">organelle organization</tspan></text></g>
<g id="n_cytoorg" class="node"><rect x="2455" y="527" width="90" height="48"/><text x="2500" y="545.7">cytoskeleton<tspan x="2500" dy="14.6">organization</tspan></text></g>
<g id="n_pccd" class="node"><rect x="3050" y="527" width="148" height="48"/><text x="3124" y="545.7">protein-containing<tspan x="3124" dy="14.6">complex disassembly</tspan></text></g>
<g id="n_nsd" class="node"><rect x="3420" y="527" width="111" height="48"/><text x="3475.5" y="545.7">nervous system<tspan x="3475.5" dy="14.6">development</tspan></text></g>
<g id="n_crcyt" class="node"><rect x="3595" y="527" width="118" height="48"/><text x="3654" y="538.4">cellular response<tspan x="3654" dy="14.6">to cytokine</tspan><tspan x="3654" dy="14.6">stimulus</tspan></text></g>
<g id="n_droo" class="node"><rect x="3807" y="527" width="124" height="48"/><text x="3869" y="545.7">defense response<tspan x="3869" dy="14.6">to other organism</tspan></text></g>
<g id="n_regpcca" class="node"><rect x="1692" y="625" width="129" height="48"/><text x="1756.5" y="636.4">regulation of<tspan x="1756.5" dy="14.6">protein-containing</tspan><tspan x="1756.5" dy="14.6">complex assembly</tspan></text></g>
<g id="n_protpoly" class="node"><rect x="1948" y="625" width="155" height="48"/><text x="2025.5" y="651">protein polymerization</text></g>
<g id="n_negregorgorg" class="node"><rect x="2228" y="625" width="133" height="48"/><text x="2294.5" y="636.4">negative regulation<tspan x="2294.5" dy="14.6">of organelle</tspan><tspan x="2294.5" dy="14.6">organization</tspan></text></g>
<g id="n_regcytoorg" class="node"><rect x="2436" y="625" width="90" height="48"/><text x="2481" y="636.4">regulation of<tspan x="2481" dy="14.6">cytoskeleton</tspan><tspan x="2481" dy="14.6">organization</tspan></text></g>
<g id="n_sfo" class="node"><rect x="2550" y="625" width="121" height="48"/><text x="2610.5" y="643.7">supramolecular<tspan x="2610.5" dy="14.6">fiber organization</tspan></text></g>
<g id="n_acorg" class="node"><rect x="2696" y="625" width="125" height="48"/><text x="2758.5" y="643.7">actin cytoskeleton<tspan x="2758.5" dy="14.6">organization</tspan></text></g>
<g id="n_regpccd" class="node"><rect x="3000" y="625" width="147" height="48"/><text x="3073.5" y="636.4">regulation of<tspan x="3073.5" dy="14.6">protein-containing</tspan><tspan x="3073.5" dy="14.6">complex disassembly</tspan></text></g>
<g id="n_protdepoly" class="node"><rect x="3223" y="625" width="171" height="48"/><text x="3308.5" y="651">protein depolymerization</text></g>
<g id="n_cnsd" class="node lb"><rect x="3418" y="625" width="145" height="48"/><text x="3490.5" y="643.7">central nervous<tspan x="3490.5" dy="14.6">system development</tspan></text></g>
<g id="n_innate" class="node"><rect x="3814" y="625" width="106" height="48"/><text x="3867" y="643.7">innate immune<tspan x="3867" dy="14.6">response</tspan></text></g>
<g id="n_negregpcca" class="node"><rect x="1754" y="724" width="142" height="48"/><text x="1825" y="735.4">negative regulation<tspan x="1825" dy="14.6">of protein-containing</tspan><tspan x="1825" dy="14.6">complex assembly</tspan></text></g>
<g id="n_regprotpoly" class="node"><rect x="1972" y="724" width="155" height="48"/><text x="2049.5" y="742.7">regulation of<tspan x="2049.5" dy="14.6">protein polymerization</tspan></text></g>
<g id="n_negregcytoorg" class="node"><rect x="2252" y="724" width="134" height="48"/><text x="2319" y="735.4">negative regulation<tspan x="2319" dy="14.6">of cytoskeleton</tspan><tspan x="2319" dy="14.6">organization</tspan></text></g>
<g id="n_regsfo" class="node"><rect x="2460" y="724" width="120" height="48"/><text x="2520" y="735.4">regulation of<tspan x="2520" dy="14.6">supramolecular</tspan><tspan x="2520" dy="14.6">fiber organization</tspan></text></g>
<g id="n_aforg" class="node"><rect x="2603" y="724" width="97" height="48"/><text x="2651.5" y="742.7">actin filament<tspan x="2651.5" dy="14.6">organization</tspan></text></g>
<g id="n_regacorg" class="node"><rect x="2725" y="724" width="126" height="48"/><text x="2788" y="735.4">regulation of<tspan x="2788" dy="14.6">actin cytoskeleton</tspan><tspan x="2788" dy="14.6">organization</tspan></text></g>
<g id="n_negregpccd" class="node"><rect x="2928" y="724" width="147" height="48"/><text x="3001.5" y="735.4">negative regulation<tspan x="3001.5" dy="14.6">of protein-containing</tspan><tspan x="3001.5" dy="14.6">complex disassembly</tspan></text></g>
<g id="n_regprotdepoly" class="node"><rect x="3100" y="724" width="171" height="48"/><text x="3185.5" y="742.7">regulation of<tspan x="3185.5" dy="14.6">protein depolymerization</tspan></text></g>
<g id="n_resptype2" class="node"><rect x="3691" y="724" width="115" height="48"/><text x="3748.5" y="742.7">response to<tspan x="3748.5" dy="14.6">type II interferon</tspan></text></g>
<g id="n_negregprotpoly" class="node"><rect x="1850" y="823" width="172" height="48"/><text x="1936" y="841.7">negative regulation<tspan x="1936" dy="14.6">of protein polymerization</tspan></text></g>
<g id="n_negregsfo" class="node"><rect x="2294" y="823" width="134" height="48"/><text x="2361" y="834.4">negative regulation<tspan x="2361" dy="14.6">of supramolecular</tspan><tspan x="2361" dy="14.6">fiber organization</tspan></text></g>
<g id="n_regaforg" class="node"><rect x="2502" y="823" width="97" height="48"/><text x="2550.5" y="834.4">regulation of<tspan x="2550.5" dy="14.6">actin filament</tspan><tspan x="2550.5" dy="14.6">organization</tspan></text></g>
<g id="n_apd" class="node lb"><rect x="2623" y="823" width="140" height="48"/><text x="2693" y="841.7">actin polymerization<tspan x="2693" dy="14.6">or depolymerization</tspan></text></g>
<g id="n_regafl" class="node"><rect x="2788" y="823" width="96" height="48"/><text x="2836" y="834.4">regulation of<tspan x="2836" dy="14.6">actin filament</tspan><tspan x="2836" dy="14.6">length</tspan></text></g>
<g id="n_negregprotdepoly" class="node"><rect x="2908" y="823" width="187" height="48"/><text x="3001.5" y="841.7">negative regulation<tspan x="3001.5" dy="14.6">of protein depolymerization</tspan></text></g>
<g id="n_crtype2" class="node cb"><rect x="3634" y="823" width="132" height="48"/><text x="3700" y="841.7">cellular response<tspan x="3700" dy="14.6">to type II interferon</tspan></text></g>
<g id="n_afpoly" class="node"><rect x="2232" y="921" width="104" height="48"/><text x="2284" y="939.7">actin filament<tspan x="2284" dy="14.6">polymerization</tspan></text></g>
<g id="n_regapd" class="node"><rect x="2623" y="921" width="140" height="48"/><text x="2693" y="932.4">regulation of<tspan x="2693" dy="14.6">actin polymerization</tspan><tspan x="2693" dy="14.6">or depolymerization</tspan></text></g>
<g id="n_afdepoly" class="node"><rect x="3169" y="921" width="120" height="48"/><text x="3229" y="939.7">actin filament<tspan x="3229" dy="14.6">depolymerization</tspan></text></g>
<g id="n_regafpoly" class="node"><rect x="2257" y="1020" width="104" height="48"/><text x="2309" y="1031.4">regulation of<tspan x="2309" dy="14.6">actin filament</tspan><tspan x="2309" dy="14.6">polymerization</tspan></text></g>
<g id="n_regafdepoly" class="node"><rect x="3005" y="1020" width="120" height="48"/><text x="3065" y="1031.4">regulation of<tspan x="3065" dy="14.6">actin filament</tspan><tspan x="3065" dy="14.6">depolymerization</tspan></text></g>
<g id="n_negregafpoly" class="node"><rect x="2128" y="1118" width="133" height="48"/><text x="2194.5" y="1129.4">negative regulation<tspan x="2194.5" dy="14.6">of actin filament</tspan><tspan x="2194.5" dy="14.6">polymerization</tspan></text></g>
<g id="n_negregafdepoly" class="node"><rect x="2616" y="1118" width="134" height="48"/><text x="2683" y="1129.4">negative regulation<tspan x="2683" dy="14.6">of actin filament</tspan><tspan x="2683" dy="14.6">depolymerization</tspan></text></g>
<g id="n_afcap" class="node lb"><rect x="2402" y="1216" width="97" height="48"/><text x="2450.5" y="1234.7">actin filament<tspan x="2450.5" dy="14.6">capping</tspan></text></g>
<g id="n_beafcap" class="node lb"><rect x="2393" y="1312" width="115" height="48"/><text x="2450.5" y="1330.7">barbed-end actin<tspan x="2450.5" dy="14.6">filament capping</tspan></text></g>
</svg>
